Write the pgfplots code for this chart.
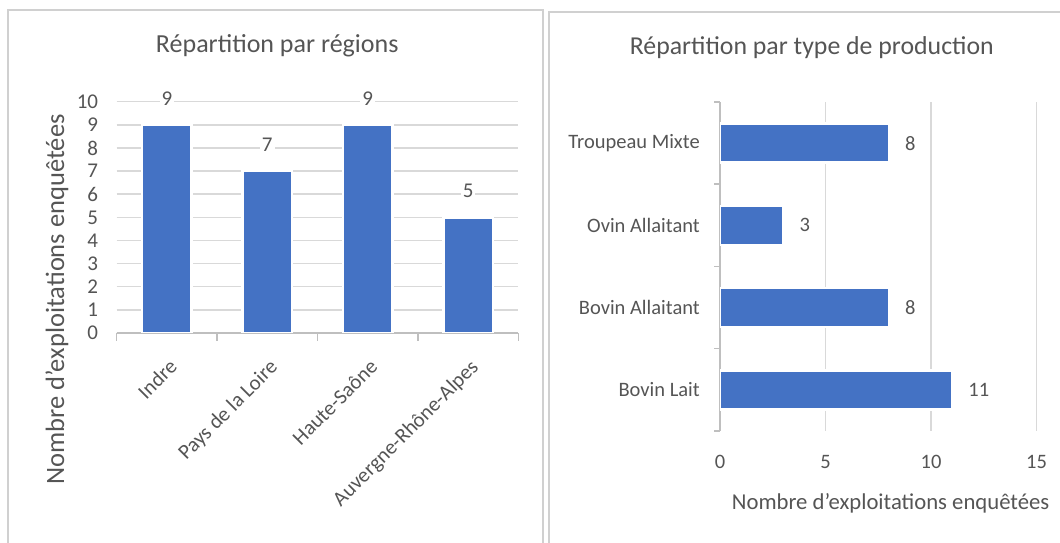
\documentclass[border=0pt]{standalone}
\usepackage{fontspec}
\setmainfont{Carlito}
\usepackage{pgfplots}
\pgfplotsset{compat=1.18}
\definecolor{barblue}{HTML}{4472C4}
\definecolor{txt}{HTML}{555555}
\definecolor{gridc}{HTML}{D9D9D9}
\definecolor{axl}{HTML}{BFBFBF}
\definecolor{framec}{HTML}{D0D0D0}
\newcommand{\lticksize}{\fontsize{21bp}{25bp}\selectfont}
\newcommand{\rticksize}{\fontsize{20.5bp}{25bp}\selectfont}

\pgfplotstableread{
x v
0 9
1 7
2 9
3 5
}\regions

\pgfplotstableread{
y v
0 11
1 8
2 3
3 8
}\production

\begin{document}
\begin{tikzpicture}[x=1bp,y=1bp]
\useasboundingbox (0,0) rectangle (1060,543);
\fill[white] (0,0) rectangle (1060,543);
\draw[framec, line width=2bp] (8,-5) -- (8,533) -- (543,533) -- (543,-5);
\draw[framec, line width=2bp] (549,-5) -- (549,531) -- (1070,531);

\begin{axis}[
  at={(116.7bp,210bp)}, anchor=south west, scale only axis,
  width=401.6bp, height=231.3bp,
  xmin=-0.5, xmax=3.5, ymin=0, ymax=10,
  ybar, bar width=49.5bp,
  xtick={0,1,2,3},
  xticklabels={Indre,Pays de la Loire,Haute-Saône,Auvergne-Rhône-Alpes},
  minor xtick={-0.5,0.5,1.5,2.5,3.5},
  ytick={0,1,...,10},
  ymajorgrids, grid style={gridc, line width=1.5bp},
  axis x line*=bottom, axis y line*=left,
  y axis line style={draw=none},
  x axis line style={axl, line width=1.5bp},
  major tick length=0pt, minor tick length=8bp, tick align=outside,
  minor x tick style={axl, line width=1.5bp},
  ytick style={draw=none},
  /pgf/number format/assume math mode=true,
  tick label style={txt, font=\lticksize, inner sep=0pt},
  yticklabel style={anchor=east, xshift=-18.4bp},
  xticklabel style={xshift=1bp, yshift=-25bp, rotate=45, anchor=north east},
  ylabel={Nombre d'exploitations enquêtées},
  ylabel style={at={(axis description cs:-0.149,0.144)}, anchor=center, font=\fontsize{26.5bp}{31bp}\selectfont, txt},
  title={Répartition par régions},
  title style={at={(axis description cs:0.3997,1.216)}, anchor=center, font=\fontsize{26bp}{31bp}\selectfont, txt},
  nodes near coords,
  every node near coord/.append style={font=\lticksize, txt, fill=white, inner sep=2bp, yshift=16.2bp},
]
\addplot[fill=barblue, draw=white, line width=2.5bp] table[x=x, y=v] {\regions};
\end{axis}

\begin{axis}[
  at={(720bp,112bp)}, anchor=south west, scale only axis,
  width=316.5bp, height=329bp,
  xmin=0, xmax=15, ymin=-0.5, ymax=3.5,
  xbar, bar width=39bp,
  ytick={0,1,2,3},
  yticklabels={Bovin Lait,Bovin Allaitant,Ovin Allaitant,Troupeau Mixte},
  minor ytick={-0.5,0.5,1.5,2.5,3.5},
  xtick={0,5,10,15},
  xmajorgrids, grid style={gridc, line width=1.5bp},
  axis x line*=bottom, axis y line*=left,
  x axis line style={draw=none},
  y axis line style={axl, line width=1.5bp},
  major tick length=0pt, minor tick length=6bp, tick align=outside,
  minor y tick style={axl, line width=1.5bp},
  xtick style={draw=none},
  /pgf/number format/assume math mode=true,
  tick label style={txt, font=\rticksize, inner sep=0pt},
  yticklabel style={anchor=east, xshift=-20bp},
  xticklabel style={anchor=center, yshift=-30.7bp},
  xlabel={Nombre d'exploitations enquêtées},
  xlabel style={at={(axis description cs:0.539,-0.219)}, anchor=center, font=\fontsize{22.7bp}{28bp}\selectfont, txt},
  title={Répartition par type de production},
  title style={at={(axis description cs:0.29,1.147)}, anchor=center, font=\fontsize{25.8bp}{31bp}\selectfont, txt},
  nodes near coords,
  every node near coord/.append style={font=\rticksize, txt, anchor=west, inner sep=0pt, xshift=15bp},
]
\addplot[fill=barblue, draw=white, line width=2.5bp] table[x=v, y=y] {\production};
\end{axis}
\end{tikzpicture}
\end{document}
